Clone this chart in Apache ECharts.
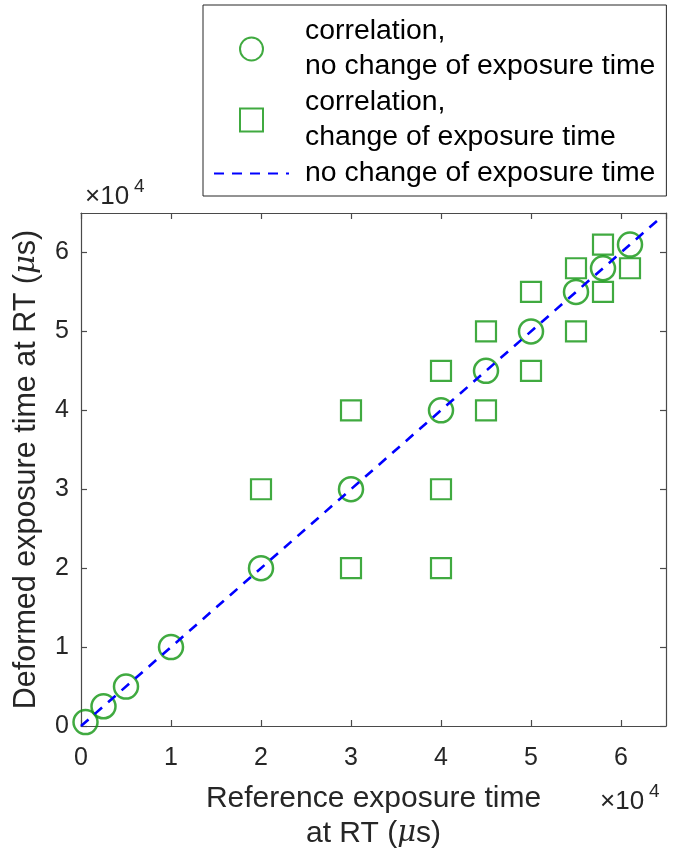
<!DOCTYPE html>
<html>
<head>
<meta charset="utf-8">
<script src="https://cdn.jsdelivr.net/npm/echarts@6/dist/echarts.min.js"></script>
<style>
  html, body { margin: 0; padding: 0; background: #ffffff; }
  #chart { width: 680px; height: 854px; }
</style>
</head>
<body>
<div id="chart"></div>
<script>
// Exposure times in microseconds: [reference, deformed]
const sameExposurePoints = [
  [500, 500], [2500, 2500], [5000, 5000], [10000, 10000], [20000, 20000],
  [30000, 30000], [40000, 40000], [45000, 45000], [50000, 50000],
  [55000, 55000], [58000, 58000], [61000, 61000]
];
const changedExposurePoints = [
  [20000, 30000], [30000, 40000], [30000, 20000], [40000, 45000],
  [40000, 30000], [40000, 20000], [45000, 50000], [45000, 40000],
  [50000, 55000], [50000, 45000], [55000, 58000], [55000, 50000],
  [58000, 61000], [58000, 55000], [61000, 58000]
];
const identityLine = [[0, 0], [64000, 64000]];
const axisMin = 0;
const axisMax = 65000;
const tickStep = 10000;
const tickScale = 10000; // labels are shown in units of 10^4
const seriesNames = [
  'correlation,\nno change of exposure time',
  'correlation,\nchange of exposure time',
  'no change of exposure time'
];

const FONT = '"Liberation Sans", Arial, Helvetica, sans-serif';
const TEXT = '#262626';
const AXIS = '#4a4a4a';
const GREEN = '#109510';
const BLUE = '#0000ff';

const chart = echarts.init(document.getElementById('chart'), null, { renderer: 'canvas' });

const tickLabel = v => (v % tickStep === 0 ? String(v / tickScale) : '');

function valueAxis(extra, labelMargin) {
  return Object.assign({
    type: 'value',
    min: axisMin,
    max: axisMax,
    interval: tickStep,
    splitLine: { show: false },
    axisLine: { show: true, onZero: false, lineStyle: { color: AXIS, width: 1.2 } },
    axisTick: { show: true, inside: true, length: 6, lineStyle: { color: AXIS, width: 1.2 } },
    axisLabel: {
      show: true, formatter: tickLabel, color: TEXT,
      fontFamily: FONT, fontSize: 25, margin: labelMargin || 12,
      showMinLabel: true, showMaxLabel: false
    }
  }, extra);
}

const muRich = {
  mu: { fontFamily: '"DejaVu Serif", "Liberation Serif", serif', fontStyle: 'italic', fontSize: 29, color: TEXT }
};

// Square outline used as the legend icon so it keeps its aspect ratio
const squareIcon = 'path://M0,0H20V20H0Z';

const option = {
  backgroundColor: '#ffffff',
  animation: false,
  grid: { left: 81, right: 14, top: 213, bottom: 128, containLabel: false, outerBoundsMode: 'none' },
  legend: {
    orient: 'vertical',
    left: 203,
    top: 5,
    padding: [9, 11, 5, 10],
    itemGap: 1,
    itemWidth: 75,
    itemHeight: 23,
    symbolKeepAspect: true,
    borderColor: '#262626',
    borderWidth: 1,
    backgroundColor: '#ffffff',
    data: [
      { name: seriesNames[0] },
      { name: seriesNames[1], icon: squareIcon },
      { name: seriesNames[2], itemStyle: { opacity: 0, color: 'rgba(0,0,0,0)', borderWidth: 0 } }
    ],
    textStyle: { fontFamily: FONT, fontSize: 28.4, lineHeight: 35, color: '#000000', padding: [0, 0, 0, 11] }
  },
  xAxis: [
    valueAxis({
      position: 'bottom',
      name: 'Reference exposure time\nat RT ({mu|μ}s)',
      nameLocation: 'middle',
      nameGap: 55,
      nameTextStyle: { fontFamily: FONT, fontSize: 30, lineHeight: 35, color: TEXT, rich: muRich }
    }, 20),
    valueAxis({ position: 'top', axisLabel: { show: false } })
  ],
  yAxis: [
    valueAxis({
      position: 'left',
      name: 'Deformed exposure time at RT ({mu|μ}s)',
      nameLocation: 'middle',
      nameGap: 35,
      nameTextStyle: { fontFamily: FONT, fontSize: 30.5, lineHeight: 36, color: TEXT, rich: muRich }
    }),
    valueAxis({ position: 'right', axisLabel: { show: false } })
  ],
  series: [
    {
      name: seriesNames[0],
      type: 'scatter',
      data: sameExposurePoints,
      symbol: 'circle',
      symbolSize: 24,
      itemStyle: { color: 'rgba(255,255,255,0)', borderColor: GREEN, borderWidth: 2.5 },
      z: 3
    },
    {
      name: seriesNames[1],
      type: 'scatter',
      data: changedExposurePoints,
      symbol: 'rect',
      symbolSize: 20,
      itemStyle: { color: 'rgba(255,255,255,0)', borderColor: GREEN, borderWidth: 2.2 },
      z: 3
    },
    {
      name: seriesNames[2],
      type: 'line',
      data: identityLine,
      symbol: 'none',
      lineStyle: { color: BLUE, width: 2.6, type: [10, 8] },
      itemStyle: { color: BLUE },
      z: 4
    }
  ],
  graphic: [
    { type: 'text', left: 85, top: 184, style: { text: '×10', fontFamily: FONT, fontSize: 26, fill: TEXT } },
    { type: 'text', left: 134, top: 177, style: { text: '4', fontFamily: FONT, fontSize: 19, fill: TEXT } },
    { type: 'text', left: 600, top: 789, style: { text: '×10', fontFamily: FONT, fontSize: 26, fill: TEXT } },
    { type: 'text', left: 649, top: 782, style: { text: '4', fontFamily: FONT, fontSize: 19, fill: TEXT } }
  ]
};

chart.setOption(option);
</script>
</body>
</html>
